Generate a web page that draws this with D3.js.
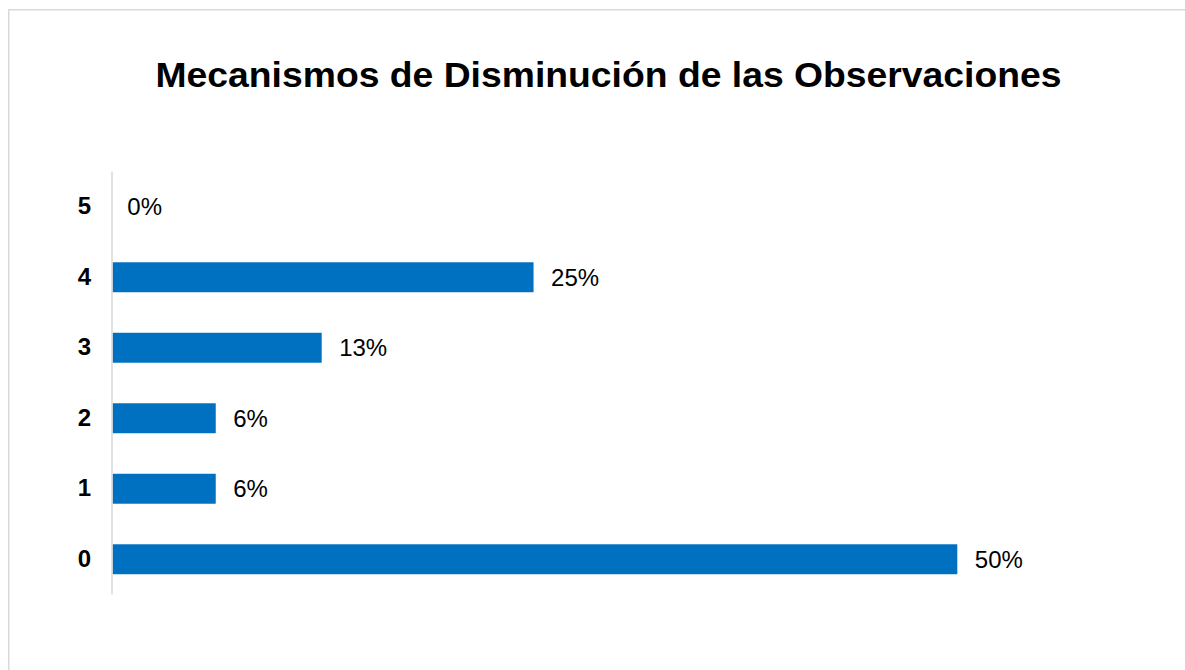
<!DOCTYPE html>
<html>
<head>
<meta charset="utf-8">
<script src="https://cdn.jsdelivr.net/npm/d3@7"></script>
<style>
html, body { margin: 0; padding: 0; background: #fff; }
svg { display: block; }
</style>
</head>
<body>
<svg id="chart" width="1185" height="670"></svg>
<script>
const title = "Mecanismos de Disminución de las Observaciones";
const categories = ["5", "4", "3", "2", "1", "0"];
const values = [0, 0.25, 0.125, 0.0625, 0.0625, 0.5];

const svg = d3.select("#chart");
const W = 1185, H = 670;

// frame
svg.append("rect")
  .attr("x", 8.75).attr("y", 9.75)
  .attr("width", W + 20).attr("height", H + 20)
  .attr("fill", "#fff")
  .attr("stroke", "#d9d9d9").attr("stroke-width", 1.5);

svg.append("text")
  .attr("x", 608.5).attr("y", 86.5)
  .attr("text-anchor", "middle")
  .attr("font-family", "Liberation Sans, Arial, sans-serif")
  .attr("font-weight", "bold")
  .attr("font-size", 35)
  .attr("textLength", 906)
  .attr("lengthAdjust", "spacingAndGlyphs")
  .attr("fill", "#000")
  .text(title);

const axisX = 112.5;
const x = d3.scaleLinear().domain([0, 0.5]).range([109.8, 957.3]);
const y = d3.scaleBand().domain(categories).range([171.5, 594.5]).paddingInner(0.575).paddingOuter(0.2875);

const fmt = d3.format(".0%");

svg.append("g").selectAll("rect")
  .data(categories)
  .join("rect")
  .attr("x", axisX)
  .attr("y", c => y(c))
  .attr("width", (c, i) => Math.max(0, x(values[i]) - axisX))
  .attr("height", y.bandwidth())
  .attr("fill", "#0070c0");

// y axis
const yAxis = svg.append("g")
  .attr("transform", `translate(${axisX - 0.5},0)`)
  .call(d3.axisLeft(y).tickSize(0).tickPadding(21));
yAxis.select(".domain").attr("stroke", "#d9d9d9").attr("stroke-width", 1.5)
  .attr("d", `M0,171.5V594.5`);
yAxis.selectAll("text")
  .attr("font-family", "Liberation Sans, Arial, sans-serif")
  .attr("font-weight", "bold")
  .attr("font-size", 24)
  .attr("fill", "#000");

// value labels
svg.append("g").selectAll("text")
  .data(categories)
  .join("text")
  .attr("x", (c, i) => x(values[i]) + 17.5)
  .attr("y", c => y(c) + y.bandwidth() / 2)
  .attr("dy", "0.35em")
  .attr("font-family", "Liberation Sans, Arial, sans-serif")
  .attr("font-size", 24)
  .attr("fill", "#000")
  .text((c, i) => fmt(values[i]));
</script>
</body>
</html>
